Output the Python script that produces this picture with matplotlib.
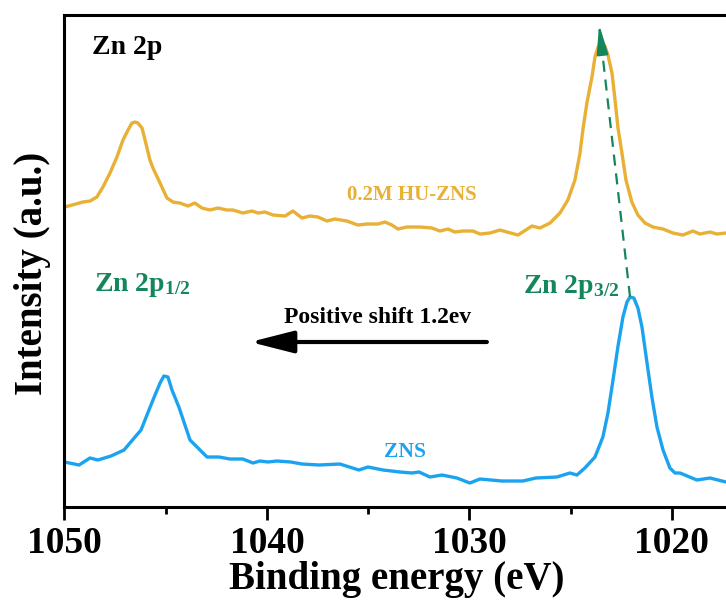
import numpy as np
import matplotlib
matplotlib.use("Agg")
import matplotlib.pyplot as plt
from matplotlib.ticker import MultipleLocator, NullLocator

plt.rcParams['font.family'] = 'Liberation Serif'
plt.rcParams['font.weight'] = 'bold'
plt.rcParams['axes.labelweight'] = 'bold'
plt.rcParams['mathtext.fontset'] = 'custom'
plt.rcParams['mathtext.rm'] = 'Liberation Serif:bold'
plt.rcParams['mathtext.it'] = 'Liberation Serif:bold'
plt.rcParams['mathtext.bf'] = 'Liberation Serif:bold'

# Zn 2p spectra (binding energy in eV, intensity in a.u.)
hu_zns_be = [1049.98, 1049.09, 1048.74, 1048.40, 1048.10, 1047.75, 1047.41, 1047.11,
             1046.86, 1046.67, 1046.52, 1046.37, 1046.17, 1046.02, 1045.78, 1045.63,
             1045.28, 1044.94, 1044.64, 1044.30, 1043.90, 1043.56, 1043.21,
             1042.81, 1042.42, 1041.98, 1041.68, 1041.19, 1040.74, 1040.44, 1040.10,
             1039.70, 1039.10, 1038.72, 1038.27, 1037.88, 1037.48, 1037.04, 1036.64,
             1036.05, 1035.51, 1035.06, 1034.52, 1034.17, 1033.83, 1033.53, 1033.09,
             1032.44, 1031.85, 1031.46, 1031.06, 1030.72, 1030.32, 1029.83, 1029.48,
             1028.99, 1028.49, 1028.15, 1027.60, 1026.91, 1026.52, 1026.02, 1025.53,
             1025.14, 1024.79, 1024.54, 1024.40, 1024.20, 1023.95, 1023.80, 1023.65,
             1023.46, 1023.31, 1023.16, 1022.96, 1022.81, 1022.67, 1022.47, 1022.27,
             1021.98, 1021.68, 1021.33, 1020.94, 1020.44, 1019.95, 1019.46,
             1018.96, 1018.62, 1018.12, 1017.78, 1017.33]
hu_zns_int = [300, 305, 306, 310, 320, 334, 350, 367,
              377, 384, 385, 384, 379, 367, 347, 339,
              324, 309, 305, 304, 301, 304, 299,
              297, 299, 297, 297, 294, 296, 294, 295,
              292, 291, 296, 289, 291, 290, 286, 288,
              286, 282, 283, 283, 285, 282, 278, 280,
              280, 279, 276, 278, 275, 276, 276, 273,
              274, 277, 275, 272, 281, 279, 284, 294,
              307, 327, 354, 377, 404, 430, 450, 460,
              464, 461, 452, 434, 407, 380, 354, 327,
              305, 292, 284, 280, 278, 274, 272,
              276, 273, 275, 273, 274]

zns_be = [1050.00, 1049.28, 1048.74, 1048.35, 1047.70, 1047.06, 1046.22, 1045.63,
          1045.28, 1045.09, 1044.89, 1044.69, 1044.35, 1043.80, 1042.96, 1042.37,
          1041.83, 1041.19, 1040.69, 1040.35, 1039.95, 1039.51, 1038.82, 1038.27,
          1037.43, 1036.40, 1035.46, 1035.01, 1034.27, 1033.43, 1032.84, 1032.49,
          1031.95, 1031.36, 1030.62, 1029.98, 1029.48, 1028.40, 1027.36, 1026.72,
          1025.68, 1025.04, 1024.69, 1024.30, 1023.80, 1023.41, 1023.16, 1022.91,
          1022.67, 1022.42, 1022.22, 1022.07, 1021.88, 1021.68, 1021.48, 1021.23,
          1020.99, 1020.74, 1020.44, 1020.10, 1019.85, 1019.60, 1018.77, 1018.12,
          1017.33]
zns_int = [45, 42, 49, 47, 51, 57, 77, 107,
           124, 131, 130, 117, 100, 67, 50, 50,
           48, 48, 44, 46, 45, 46, 45, 43,
           42, 43, 37, 40, 37, 35, 34, 35,
           30, 32, 29, 24, 28, 26, 26, 29,
           30, 34, 32, 39, 50, 70, 94, 127,
           160, 190, 205, 210, 209, 199, 180, 144,
           110, 80, 57, 39, 34, 34, 27, 29,
           25]

peak_zns = (1022.07, 210)
peak_hu_zns = (1023.60, 483)

yellow = '#E8B034'
blue = '#1BA3F0'
green = '#13875B'

fig = plt.figure(figsize=(7.26, 6.01), dpi=100)
ax = fig.add_axes([0.0888, 0.1564, 0.9112, 0.8186])

ax.plot(hu_zns_be, hu_zns_int, color=yellow, lw=2.4,
        solid_joinstyle='round', solid_capstyle='round')
ax.plot(zns_be, zns_int, color=blue, lw=2.4,
        solid_joinstyle='round', solid_capstyle='round')

ax.set_xlim(1050, 1017.33)
ax.set_ylim(0, 492)

ax.xaxis.set_major_locator(MultipleLocator(10))
ax.xaxis.set_minor_locator(MultipleLocator(5))
ax.yaxis.set_major_locator(NullLocator())
ax.tick_params(axis='x', which='major', direction='out', length=9, width=2,
               labelsize=27, pad=5)
ax.tick_params(axis='x', which='minor', direction='out', length=5, width=2)
for s in ['left', 'top', 'bottom']:
    ax.spines[s].set_linewidth(2.2)
ax.spines['right'].set_visible(False)

ax.set_xlabel('Binding energy (eV)', fontsize=28, fontweight='bold', va='center')
ax.xaxis.set_label_coords(0.503, -0.148)
ax.set_ylabel('Intensity (a.u.)', fontsize=28, fontweight='bold', va='center')
ax.yaxis.set_label_coords(-0.049, 0.474)

ax.text(0.042, 0.935, 'Zn 2p', transform=ax.transAxes, fontsize=20,
        ha='left', va='center')
ax.text(1032.84, 312, '0.2M HU-ZNS', color=yellow, fontsize=15,
        ha='center', va='center')
ax.text(1033.19, 55, 'ZNS', color=blue, fontsize=15.5, ha='center', va='center')
ax.text(1048.54, 216, r'Zn 2p$_{1/2}$', color=green, fontsize=20,
        ha='left', va='baseline')
ax.text(1027.36, 214, r'Zn 2p$_{3/2}$', color=green, fontsize=20,
        ha='left', va='baseline')
ax.text(1034.52, 190, 'Positive shift 1.2ev', fontsize=17,
        ha='center', va='center')

# shift arrow
ax.annotate('', xy=(1040.83, 165), xytext=(1029.14, 165),
            arrowprops=dict(arrowstyle='-|>,head_length=1.1,head_width=0.28',
                            lw=3, color='black', mutation_scale=24,
                            shrinkA=0, shrinkB=0))

# dashed guide between the two 2p3/2 maxima
tip_frac = 0.93
mid_be = peak_zns[0] + tip_frac * (peak_hu_zns[0] - peak_zns[0])
mid_int = peak_zns[1] + tip_frac * (peak_hu_zns[1] - peak_zns[1])
ax.plot([peak_zns[0], mid_be], [peak_zns[1], mid_int], color=green,
        lw=1.6, ls=(0, (5, 3.5)))
ax.annotate('', xy=peak_hu_zns, xytext=(mid_be, mid_int),
            arrowprops=dict(arrowstyle='-|>,head_length=0.9,head_width=0.17',
                            lw=1.6, color=green, mutation_scale=20,
                            shrinkA=0, shrinkB=0))

fig.savefig('out.png', dpi=100)
